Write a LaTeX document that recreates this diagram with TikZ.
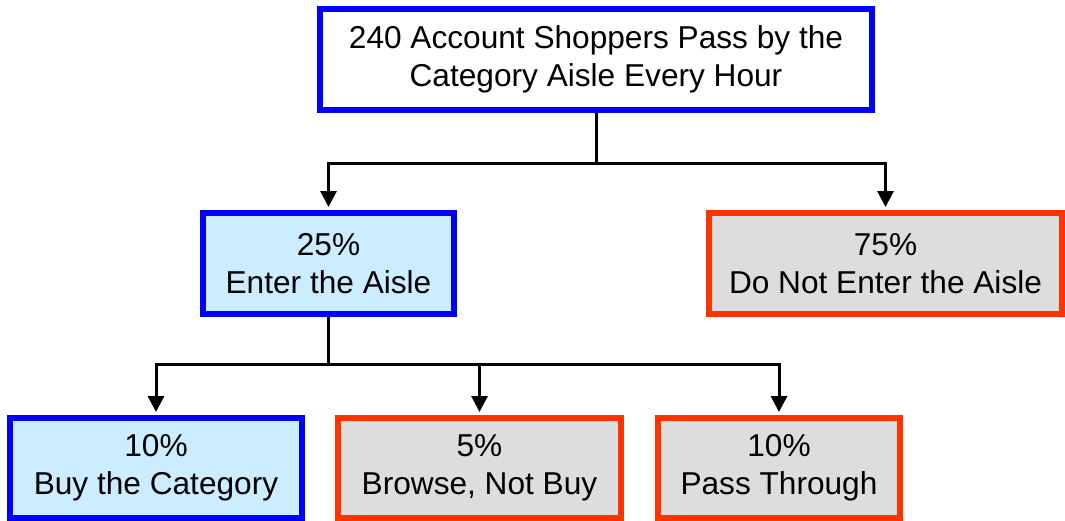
\documentclass[tikz,border=0pt]{standalone}
\usepackage{fontspec}
\setmainfont{Liberation Sans}
\usetikzlibrary{arrows.meta}

\definecolor{goodfill}{RGB}{204,236,255}
\definecolor{badline}{RGB}{255,51,0}
\definecolor{badfill}{RGB}{221,221,221}

\tikzset{
  box/.style = {draw, line width=0.12cm, align=center, inner sep=0pt,
    minimum height=2.02cm, font=\fontsize{18}{21.6}\selectfont},
  goodbox/.style = {box, draw=blue, fill=goodfill},
  badbox/.style = {box, draw=badline, fill=badfill},
  arr/.style = {line width=0.06cm, -{Triangle[length=0.32cm, width=0.32cm]},
    shorten >=0.06cm}
}

\begin{document}
\begin{tikzpicture}
\useasboundingbox (0, 0) rectangle (21.3, -10.42);
\node (shoppers) at (11.92, -1.19) [box, draw = blue, fill = white,
  minimum width = 11.04cm] {240 Account Shoppers Pass by the\\Category Aisle Every Hour};
\node (enter) at (6.57, -5.27) [goodbox, minimum width = 5.02cm]
  {25\%\\Enter the Aisle};
\node (noenter) at (17.71, -5.27) [badbox, minimum width = 7.06cm]
  {75\%\\Do Not Enter the Aisle};
\node (buy) at (3.12, -9.36) [goodbox, minimum width = 5.84cm, minimum height = 2.0cm]
  {10\%\\Buy the Category};
\node (browse) at (9.59, -9.36) [badbox, minimum width = 5.66cm, minimum height = 2.0cm]
  {5\%\\Browse, Not Buy};
\node (pass) at (15.58, -9.36) [badbox, minimum width = 4.84cm, minimum height = 2.0cm]
  {10\%\\Pass Through};
\draw [arr] (shoppers.south) -- ++(0, -1.0) -| (enter.north);
\draw [arr] (shoppers.south) -- ++(0, -1.0) -| (noenter.north);
\draw [arr] (enter.south) -- ++(0, -0.94) -| (buy.north);
\draw [arr] (enter.south) -- ++(0, -0.94) -| (browse.north);
\draw [arr] (enter.south) -- ++(0, -0.94) -| (pass.north);
\end{tikzpicture}
\end{document}
